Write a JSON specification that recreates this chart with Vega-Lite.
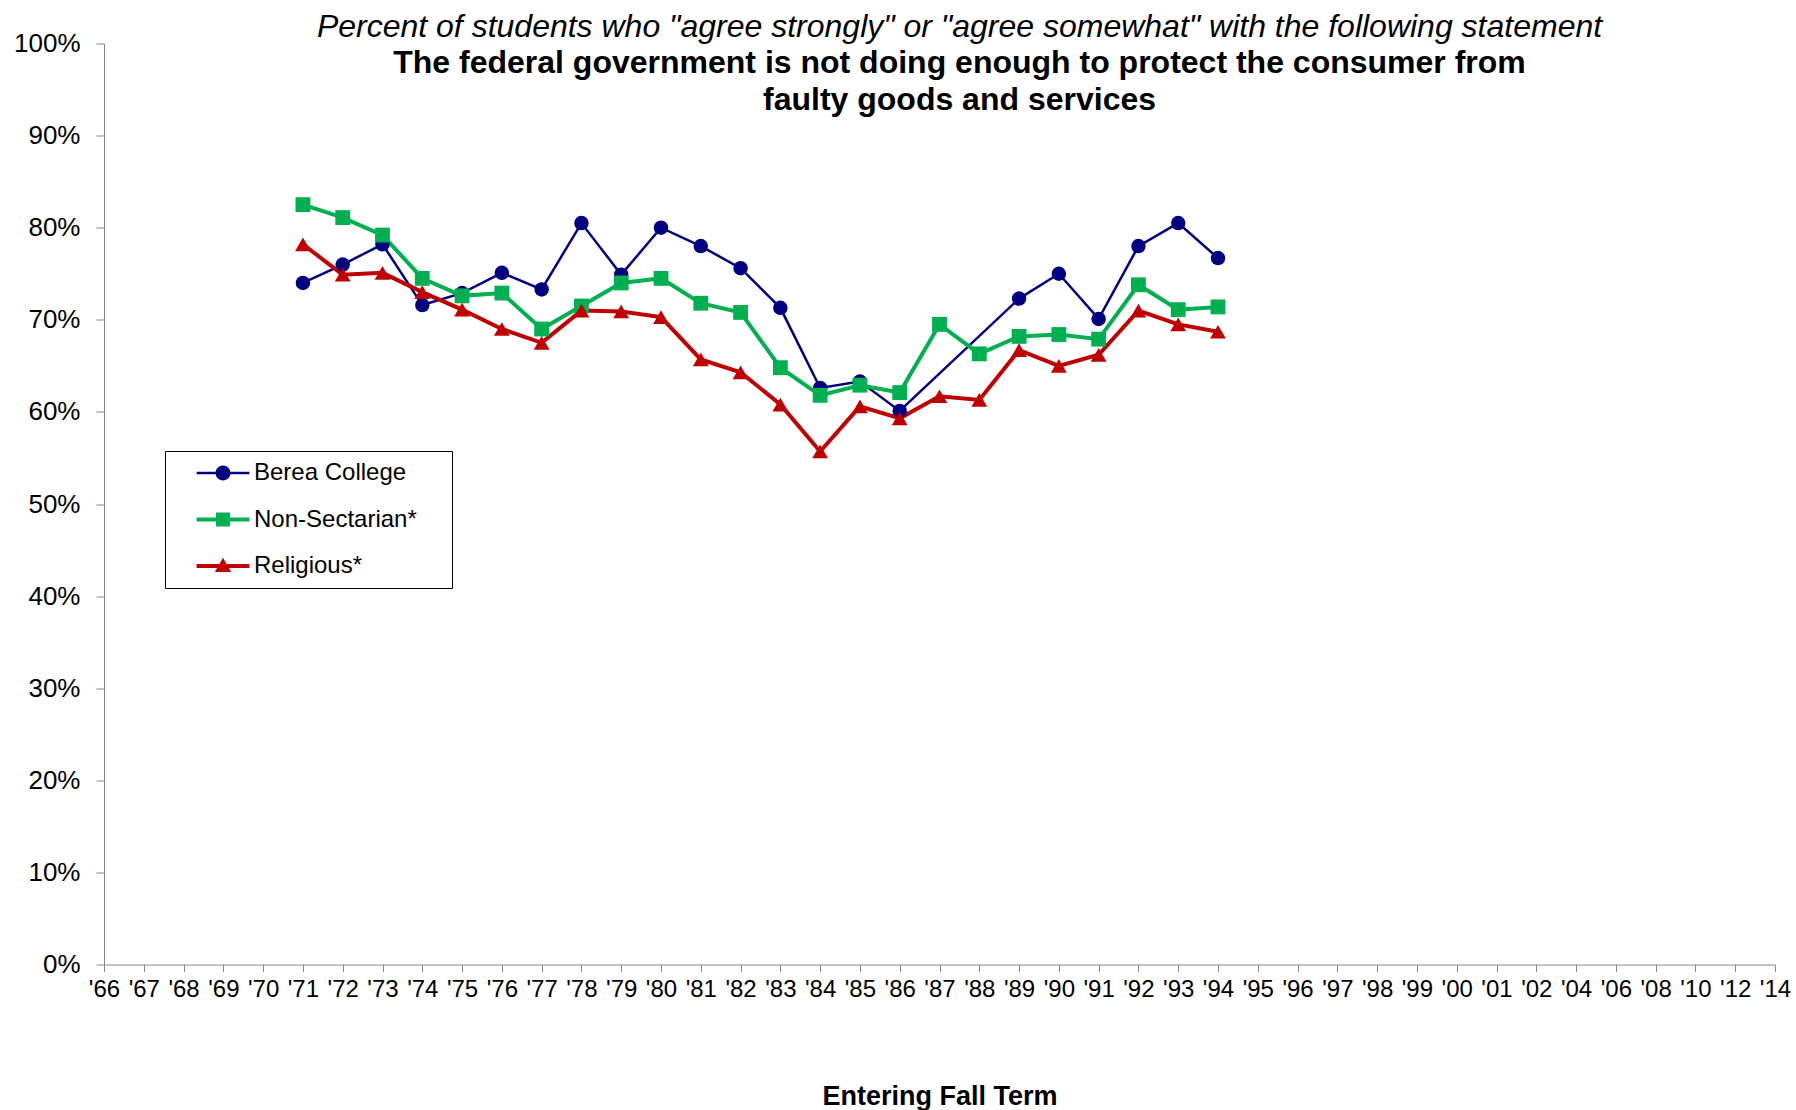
{
  "$schema": "https://vega.github.io/schema/vega-lite/v6.json",
  "width": 1671,
  "height": 921,
  "autosize": {"type": "none"},
  "padding": {"left": 104, "top": 43.5, "right": 21, "bottom": 145.5},
  "background": "white",
  "config": {
    "font": "Liberation Sans",
    "view": {"stroke": null},
    "axis": {"grid": false, "domainColor": "#868686", "tickColor": "#868686", "labelColor": "black", "labelFont": "Liberation Sans"}
  },
  "title": {
    "text": "Percent of students who \"agree strongly\" or \"agree somewhat\" with the following statement",
    "subtitle": ["The federal government is not doing enough to protect the consumer from", "faulty goods and services"],
    "anchor": "middle",
    "frame": "group",
    "offset": -86,
    "dx": 20,
    "font": "Liberation Sans",
    "fontSize": 32,
    "fontStyle": "italic",
    "fontWeight": "normal",
    "color": "black",
    "subtitleFont": "Liberation Sans",
    "subtitleFontSize": 32,
    "subtitleFontWeight": "bold",
    "subtitleColor": "black",
    "subtitlePadding": 4,
    "subtitleLineHeight": 37
  },
  "data": {
    "values": [
      {"year": "'71", "series": "Berea College", "value": 0.740},
      {"year": "'72", "series": "Berea College", "value": 0.760},
      {"year": "'73", "series": "Berea College", "value": 0.782},
      {"year": "'74", "series": "Berea College", "value": 0.716},
      {"year": "'75", "series": "Berea College", "value": 0.729},
      {"year": "'76", "series": "Berea College", "value": 0.751},
      {"year": "'77", "series": "Berea College", "value": 0.733},
      {"year": "'78", "series": "Berea College", "value": 0.805},
      {"year": "'79", "series": "Berea College", "value": 0.749},
      {"year": "'80", "series": "Berea College", "value": 0.800},
      {"year": "'81", "series": "Berea College", "value": 0.780},
      {"year": "'82", "series": "Berea College", "value": 0.756},
      {"year": "'83", "series": "Berea College", "value": 0.713},
      {"year": "'84", "series": "Berea College", "value": 0.626},
      {"year": "'85", "series": "Berea College", "value": 0.633},
      {"year": "'86", "series": "Berea College", "value": 0.601},
      {"year": "'89", "series": "Berea College", "value": 0.723},
      {"year": "'90", "series": "Berea College", "value": 0.750},
      {"year": "'91", "series": "Berea College", "value": 0.701},
      {"year": "'92", "series": "Berea College", "value": 0.780},
      {"year": "'93", "series": "Berea College", "value": 0.805},
      {"year": "'94", "series": "Berea College", "value": 0.767},
      {"year": "'71", "series": "Non-Sectarian*", "value": 0.825},
      {"year": "'72", "series": "Non-Sectarian*", "value": 0.811},
      {"year": "'73", "series": "Non-Sectarian*", "value": 0.792},
      {"year": "'74", "series": "Non-Sectarian*", "value": 0.745},
      {"year": "'75", "series": "Non-Sectarian*", "value": 0.726},
      {"year": "'76", "series": "Non-Sectarian*", "value": 0.729},
      {"year": "'77", "series": "Non-Sectarian*", "value": 0.690},
      {"year": "'78", "series": "Non-Sectarian*", "value": 0.715},
      {"year": "'79", "series": "Non-Sectarian*", "value": 0.740},
      {"year": "'80", "series": "Non-Sectarian*", "value": 0.745},
      {"year": "'81", "series": "Non-Sectarian*", "value": 0.718},
      {"year": "'82", "series": "Non-Sectarian*", "value": 0.708},
      {"year": "'83", "series": "Non-Sectarian*", "value": 0.648},
      {"year": "'84", "series": "Non-Sectarian*", "value": 0.618},
      {"year": "'85", "series": "Non-Sectarian*", "value": 0.629},
      {"year": "'86", "series": "Non-Sectarian*", "value": 0.621},
      {"year": "'87", "series": "Non-Sectarian*", "value": 0.695},
      {"year": "'88", "series": "Non-Sectarian*", "value": 0.663},
      {"year": "'89", "series": "Non-Sectarian*", "value": 0.682},
      {"year": "'90", "series": "Non-Sectarian*", "value": 0.684},
      {"year": "'91", "series": "Non-Sectarian*", "value": 0.679},
      {"year": "'92", "series": "Non-Sectarian*", "value": 0.738},
      {"year": "'93", "series": "Non-Sectarian*", "value": 0.711},
      {"year": "'94", "series": "Non-Sectarian*", "value": 0.714},
      {"year": "'71", "series": "Religious*", "value": 0.782},
      {"year": "'72", "series": "Religious*", "value": 0.749},
      {"year": "'73", "series": "Religious*", "value": 0.751},
      {"year": "'74", "series": "Religious*", "value": 0.730},
      {"year": "'75", "series": "Religious*", "value": 0.711},
      {"year": "'76", "series": "Religious*", "value": 0.690},
      {"year": "'77", "series": "Religious*", "value": 0.675},
      {"year": "'78", "series": "Religious*", "value": 0.710},
      {"year": "'79", "series": "Religious*", "value": 0.709},
      {"year": "'80", "series": "Religious*", "value": 0.703},
      {"year": "'81", "series": "Religious*", "value": 0.657},
      {"year": "'82", "series": "Religious*", "value": 0.643},
      {"year": "'83", "series": "Religious*", "value": 0.608},
      {"year": "'84", "series": "Religious*", "value": 0.557},
      {"year": "'85", "series": "Religious*", "value": 0.606},
      {"year": "'86", "series": "Religious*", "value": 0.593},
      {"year": "'87", "series": "Religious*", "value": 0.617},
      {"year": "'88", "series": "Religious*", "value": 0.613},
      {"year": "'89", "series": "Religious*", "value": 0.667},
      {"year": "'90", "series": "Religious*", "value": 0.650},
      {"year": "'91", "series": "Religious*", "value": 0.662},
      {"year": "'92", "series": "Religious*", "value": 0.710},
      {"year": "'93", "series": "Religious*", "value": 0.695},
      {"year": "'94", "series": "Religious*", "value": 0.687}
    ]
  },
  "encoding": {
    "x": {
      "field": "year",
      "type": "ordinal",
      "scale": {
        "type": "point",
        "padding": 0,
        "domain": ["'66","'67","'68","'69","'70","'71","'72","'73","'74","'75","'76","'77","'78","'79","'80","'81","'82","'83","'84","'85","'86","'87","'88","'89","'90","'91","'92","'93","'94","'95","'96","'97","'98","'99","'00","'01","'02","'04","'06","'08","'10","'12","'14"]
      },
      "axis": {
        "title": "Entering Fall Term",
        "titleFontSize": 27,
        "titleFontWeight": "bold",
        "titleColor": "black",
        "titlePadding": 82,
        "labelAngle": 0,
        "labelFontSize": 24,
        "labelPadding": 6,
        "tickSize": 7,
        "labelOverlap": false,
        "labelBound": false
      }
    },
    "y": {
      "field": "value",
      "type": "quantitative",
      "scale": {"domain": [0, 1], "nice": false},
      "axis": {
        "title": null,
        "format": ".0%",
        "values": [0, 0.1, 0.2, 0.3, 0.4, 0.5, 0.6, 0.7, 0.8, 0.9, 1],
        "labelFontSize": 26,
        "labelPadding": 16,
        "tickSize": 8
      }
    },
    "color": {
      "field": "series",
      "type": "nominal",
      "scale": {"domain": ["Berea College", "Non-Sectarian*", "Religious*"], "range": ["#000080", "#00B050", "#C00000"]},
      "legend": {
        "title": "\u00a0",
        "titleOrient": "right",
        "titlePadding": 25,
        "titleFontSize": 4,
        "orient": "none",
        "legendX": 61,
        "legendY": 407.5,
        "fillColor": "white",
        "strokeColor": "black",
        "padding": 10,
        "symbolSize": 576,
        "symbolOffset": 36,
        "rowPadding": 22.5,
        "labelFontSize": 24,
        "labelColor": "black",
        "labelFont": "Liberation Sans",
        "labelOffset": 19,
        "labelLimit": 0,
        "encode": {
          "symbols": {
            "update": {
              "shape": {"signal": "datum.value == 'Berea College' ? 'M-2.2,-0.1H2.2V0.1H-2.2Z M-0.62,0A0.62,0.62 0 1,1 0.62,0A0.62,0.62 0 1,1 -0.62,0Z' : datum.value == 'Non-Sectarian*' ? 'M-2.2,-0.16H2.2V0.16H-2.2Z M-0.58,-0.58H0.58V0.58H-0.58Z' : 'M-2.2,-0.16H2.2V0.16H-2.2Z M0,-0.68L0.68,0.5H-0.68Z'"},
              "fill": {"signal": "scale('color', datum.value)"},
              "stroke": {"value": "transparent"},
              "strokeWidth": {"value": 0},
              "opacity": {"value": 1}
            }
          }
        }
      }
    }
  },
  "layer": [
    {
      "transform": [{"filter": "datum.series == 'Berea College'"}],
      "mark": {"type": "line", "strokeWidth": 2.5}
    },
    {
      "transform": [{"filter": "datum.series != 'Berea College'"}],
      "mark": {"type": "line", "strokeWidth": 4}
    },
    {
      "transform": [{"filter": "datum.series == 'Berea College'"}],
      "mark": {"type": "point", "filled": true, "opacity": 1, "shape": "circle", "size": 210}
    },
    {
      "transform": [{"filter": "datum.series == 'Non-Sectarian*'"}],
      "mark": {"type": "point", "filled": true, "opacity": 1, "shape": "square", "size": 220}
    },
    {
      "transform": [{"filter": "datum.series == 'Religious*'"}],
      "mark": {"type": "point", "filled": true, "opacity": 1, "shape": "triangle-up", "size": 250}
    }
  ]
}
